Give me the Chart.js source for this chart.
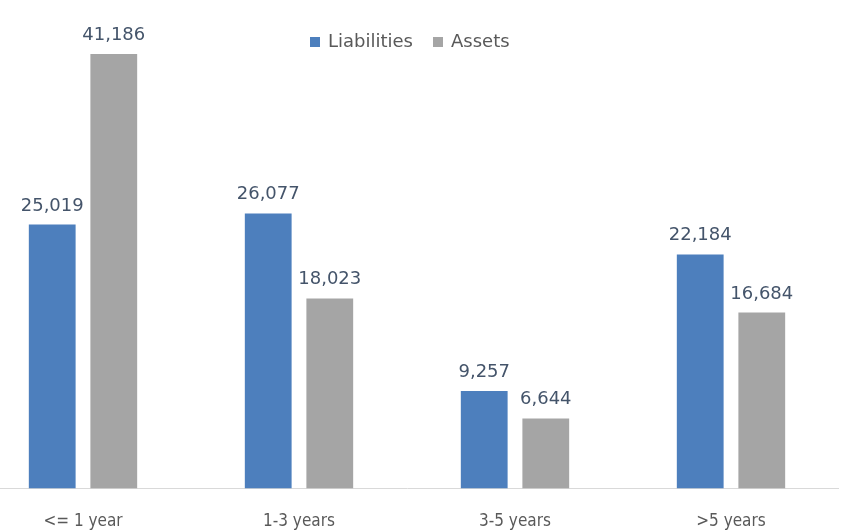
<!DOCTYPE html>
<html>
<head>
<meta charset="utf-8">
<script src="https://cdn.jsdelivr.net/npm/chart.js@4/dist/chart.umd.min.js"></script>
<style>
	html, body { margin: 0; padding: 0; background: #fff; overflow: hidden; height: 532px; }
	#painel { position: absolute; left: -25px; top: 0; width: 864px; height: 555px; }
</style>
</head>
<body>
<div id="painel"><canvas id="graficoPrazos"></canvas></div>
<script>
var categorias = ['<= 1 year', '1-3 years', '3-5 years', '>5 years'];
var liabilities = [25019, 26077, 9257, 22184];
var assets = [41186, 18023, 6644, 16684];

var AZUL = '#4d7fbd';
var CINZA = '#a5a5a5';

// valor em cima de cada barra
var rotulosValores = {
	id: 'rotulosValores',
	afterDatasetsDraw: function(chart) {
		var ctx = chart.ctx;
		ctx.save();
		ctx.font = '18px "DejaVu Sans"';
		ctx.fillStyle = '#44546a';
		ctx.textAlign = 'center';
		ctx.textBaseline = 'alphabetic';
		chart.data.datasets.forEach(function(ds, i) {
			chart.getDatasetMeta(i).data.forEach(function(barra, j) {
				ctx.fillText(ds.data[j].toLocaleString('en-US'), barra.x, barra.y - 14);
			});
		});
		ctx.restore();
	}
};

// legenda em linha, por cima das barras
var legendaTopo = {
	id: 'legendaTopo',
	afterDraw: function(chart) {
		var ctx = chart.ctx;
		var x = 335;
		ctx.save();
		ctx.font = '18px "DejaVu Sans"';
		ctx.textBaseline = 'alphabetic';
		ctx.textAlign = 'left';
		chart.data.datasets.forEach(function(ds) {
			ctx.fillStyle = ds.backgroundColor;
			ctx.fillRect(x, 37, 10, 10);
			x += 18;
			ctx.fillStyle = '#595959';
			ctx.fillText(ds.label, x, 47);
			x += ctx.measureText(ds.label).width + 20;
		});
		ctx.restore();
	}
};

var ctx = document.getElementById('graficoPrazos').getContext('2d');

var graficoPrazos = new Chart(ctx, {
	type: 'bar',
	data: {
		labels: categorias,
		datasets: [{
			label: 'Liabilities',
			backgroundColor: AZUL,
			data: liabilities
		},
		{
			label: 'Assets',
			backgroundColor: CINZA,
			data: assets
		}]
	},
	options: {
		responsive: true,
		maintainAspectRatio: false,
		animation: false,
		categoryPercentage: 0.57,
		barPercentage: 0.76,
		layout: { padding: { top: 20, left: 0, right: 0, bottom: 0 } },
		plugins: {
			legend: { display: false },
			tooltip: { enabled: false }
		},
		scales: {
			x: {
				grid: { display: false, drawTicks: false },
				border: { color: '#d9d9d9', width: 1 },
				ticks: {
					padding: 23,
					color: '#595959',
					font: { family: 'DejaVu Sans Condensed', size: 17 }
				}
			},
			y: {
				display: false,
				min: 0,
				max: 44400
			}
		}
	},
	plugins: [rotulosValores, legendaTopo]
});
</script>
</body>
</html>
